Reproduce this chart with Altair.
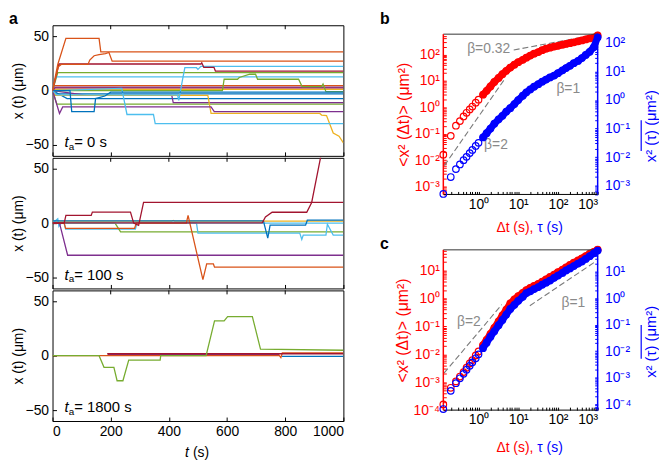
import altair as alt
import pandas as pd

FONT = "Liberation Sans"
BLUE = "#0072BD"; ORANGE = "#D95319"; YELLOW = "#EDB120"; PURPLE = "#7E2F8E"
GREEN = "#77AC30"; LBLUE = "#4DBEEE"; DRED = "#A2142F"
RED = "#FF0000"; MBLUE = "#0000FF"; GREY = "#8a8a8a"

TICKS_T = [0, 200, 400, 600, 800, 1000]
TICKS_X = [-50, 0, 50]

# ---------------- panel a, t_a = 0 s ----------------
A0_O1_T = [0, 18, 46, 160, 166, 1000]
A0_O1_X = [0, 24, 48, 48, 35.5, 35.5]
A0_O2_T = [0, 20, 30, 122, 128, 143, 160, 182, 194, 205, 1000]
A0_O2_X = [0, 22, 24, 24, 28, 32, 33, 34, 35, 27, 27]
A0_O3_T = [0, 6, 1000]
A0_O3_X = [0, 4.5, 4.5]
A0_R1_T = [0, 22, 510, 513, 520, 555, 560, 1000]
A0_R1_X = [0, 24.4, 24.4, 25.5, 21.4, 21.4, 17.9, 17.9]
A0_R2_T = [0, 8, 1000]
A0_R2_X = [0, 2.5, 2.5]
A0_L1_T = [0, 12, 1000]
A0_L1_X = [0, 12.5, 12.5]
A0_L2_T = [0, 15, 430, 434, 447, 455, 495, 500, 510, 1000]
A0_L2_X = [0, -4, -4, -9, 10, 21, 21, 19.5, 22.3, 22.3]
A0_L3_T = [0, 238, 256, 347, 353, 1000]
A0_L3_X = [0, 2, -22, -22, -30.4, -30.4]
A0_G1_T = [0, 18, 1000]
A0_G1_X = [0, 16.4, 16.4]
A0_G2_T = [0, 584, 590, 636, 642, 678, 698, 705, 846, 858, 925, 930, 940, 1000]
A0_G2_X = [0, 0, 10.4, 10.4, 12, 15, 15, 10.4, 10.4, 3.6, 3.6, 6, -1, -1]
A0_G3_T = [0, 15, 1000]
A0_G3_X = [0, -12.5, -12.5]
A0_P1_T = [0, 24, 35, 545, 556, 1000]
A0_P1_X = [0, -21, -15, -15, -19.3, -19.3]
A0_P2_T = [0, 120, 410, 415, 1000]
A0_P2_X = [0, -4.5, -4.5, -11, -11]
A0_P3_T = [0, 10, 1000]
A0_P3_X = [0, 3.2, 3.2]
A0_Y1_T = [0, 10, 534, 545, 919, 925, 942, 965, 985, 1000]
A0_Y1_X = [0, -4.5, -4.5, -21, -21, -22.5, -23, -39, -42, -48]
A0_Y2_T = [0, 1000]
A0_Y2_X = [1, 1]
A0_B1_T = [0, 60, 66, 143, 148, 180, 200, 1000]
A0_B1_X = [0, 0, -19.3, -19.3, -7.4, -5, -1.5, -1.5]
A0_B2_T = [0, 50, 1000]
A0_B2_X = [0, -7.4, -7.4]
A0_B3_T = [0, 1000]
A0_B3_X = [-3, -3]

# ---------------- panel a, t_a = 100 s ----------------
A1_R1_T = [0, 40, 46, 133, 137, 268, 279, 296, 313, 1000]
A1_R1_X = [0, 0, 7.1, 7.1, 10.1, 10.1, 0, -2, 19, 19]
A1_R2_T = [0, 721, 732, 755, 874, 891, 925, 960]
A1_R2_X = [0.3, 0.3, 5.6, 10, 10, 19, 65, 100]
A1_P1_T = [0, 24, 52, 1000]
A1_P1_X = [0, 0, -29.5, -29.5]
A1_O1_T = [0, 40, 45, 282, 288, 460, 466, 517, 530, 553, 557, 1000]
A1_O1_X = [0, 0, -4.8, -4.8, 0, 0, 7.1, -52, -37.5, -37.5, -40.5, -40.5]
A1_G1_T = [0, 215, 234, 1000]
A1_G1_X = [0, 0, -8, -8]
A1_B1_T = [0, 725, 740, 748, 870, 876, 1000]
A1_B1_X = [2, 2, -13.7, -1.8, -1.8, 2.7, 2.7]
A1_L1_T = [0, 18, 22, 30, 495, 500, 850, 857, 862, 940, 945, 965, 1000]
A1_L1_X = [0, 4, -3, 0, 0, -9.2, -9.2, -15, -11, -11, -1, -11, -11]
A1_L2_T = [0, 40, 45, 285, 290, 1000]
A1_L2_X = [0, 0, -5.5, -5.5, 0, 0]
A1_Y1_T = [0, 410, 415, 420, 1000]
A1_Y1_X = [1.8, 1.8, 2.5, 1.8, 1.8]

# ---------------- panel a, t_a = 1800 s ----------------
A2_G1_T = [0, 160, 177, 211, 222, 242, 262, 370, 372, 528, 557, 590, 602, 687, 715, 1000]
A2_G1_X = [0, 0, -10.7, -10.7, -23, -23, -4, -4, 0, 0, 32, 32, 36, 36, 6, 5]
A2_O1_T = [0, 780, 785, 790, 1000]
A2_O1_X = [0, 0, -1.8, 2.5, 2.5]
A2_R1_T = [188, 1000]
A2_R1_X = [1.8, 1.8]
A2_P1_T = [190, 780]
A2_P1_X = [1.3, 1.3]
A2_B1_T = [789, 1000]
A2_B1_X = [-0.6, -0.6]

PANEL_A0 = [(A0_Y2_T, A0_Y2_X, YELLOW), (A0_R2_T, A0_R2_X, DRED), (A0_P3_T, A0_P3_X, PURPLE),
            (A0_B3_T, A0_B3_X, BLUE), (A0_O3_T, A0_O3_X, ORANGE), (A0_G1_T, A0_G1_X, GREEN),
            (A0_G3_T, A0_G3_X, GREEN), (A0_L1_T, A0_L1_X, LBLUE), (A0_B2_T, A0_B2_X, BLUE),
            (A0_P2_T, A0_P2_X, PURPLE), (A0_Y1_T, A0_Y1_X, YELLOW), (A0_P1_T, A0_P1_X, PURPLE),
            (A0_G2_T, A0_G2_X, GREEN), (A0_L3_T, A0_L3_X, LBLUE), (A0_L2_T, A0_L2_X, LBLUE),
            (A0_B1_T, A0_B1_X, BLUE), (A0_R1_T, A0_R1_X, DRED), (A0_O2_T, A0_O2_X, ORANGE),
            (A0_O1_T, A0_O1_X, ORANGE)]
PANEL_A1 = [(A1_Y1_T, A1_Y1_X, YELLOW), (A1_L2_T, A1_L2_X, LBLUE), (A1_G1_T, A1_G1_X, GREEN),
            (A1_L1_T, A1_L1_X, LBLUE), (A1_B1_T, A1_B1_X, BLUE), (A1_P1_T, A1_P1_X, PURPLE),
            (A1_O1_T, A1_O1_X, ORANGE), (A1_R1_T, A1_R1_X, DRED), (A1_R2_T, A1_R2_X, DRED)]
PANEL_A2 = [(A2_P1_T, A2_P1_X, PURPLE), (A2_B1_T, A2_B1_X, BLUE), (A2_O1_T, A2_O1_X, ORANGE),
            (A2_R1_T, A2_R1_X, DRED), (A2_G1_T, A2_G1_X, GREEN)]

# ---------------- panels b and c: MSD curves ----------------
T_LAG = [0.13, 0.2, 0.27, 0.34, 0.42, 0.5, 0.6, 0.7, 0.85, 1.0, 1.3, 1.6, 2.0, 2.5, 3.2, 4.0,
         5.0, 6.3, 8.0, 10, 13, 16, 20, 25, 32, 40, 50, 63, 80, 100, 130, 160, 200, 250, 320,
         400, 500, 630, 800, 1000]
B_EA = [0.016, 0.083, 0.2, 0.3, 0.45, 0.62, 0.83, 1.07, 1.5, 1.95, 3.0, 4.2, 6.2, 9.1, 13, 18,
        24, 32, 41, 51, 63, 76, 91, 107, 123, 145, 166, 182, 200, 214, 234, 251, 269, 288, 316,
        339, 372, 407, 437, 525]
B_TA = [0.00051, 0.002, 0.0038, 0.0055, 0.0078, 0.0102, 0.0138, 0.0178, 0.0245, 0.0316, 0.049,
        0.069, 0.1, 0.148, 0.21, 0.28, 0.39, 0.52, 0.72, 1.0, 1.42, 1.86, 2.35, 2.95, 3.6, 4.4,
        5.2, 6.2, 7.2, 8.7, 11.0, 13.2, 15.8, 19.5, 23.4, 29.5, 38, 49, 72, 158]
C_EA = [1.6e-4, 6.3e-4, 1.07e-3, 1.6e-3, 2.3e-3, 3.3e-3, 4.7e-3, 6.2e-3, 9.1e-3, 0.0126, 0.0214,
        0.033, 0.054, 0.089, 0.15, 0.245, 0.4, 0.66, 0.93, 1.2, 1.58, 2.0, 2.4, 2.8, 3.3, 4.0,
        4.8, 5.9, 7.1, 8.7, 10.7, 12.9, 15.8, 19, 23, 27.5, 33, 40, 47, 56]
C_TA = [6.6e-5, 3.2e-4, 6.2e-4, 9.5e-4, 1.4e-3, 2.0e-3, 2.8e-3, 3.8e-3, 5.4e-3, 7.6e-3, 0.013,
        0.021, 0.035, 0.056, 0.095, 0.15, 0.24, 0.39, 0.56, 0.79, 1.12, 1.55, 1.8, 2.2, 2.6, 3.2,
        3.8, 4.6, 5.8, 7.1, 8.9, 11, 13.2, 16.2, 20, 24, 30, 38, 49, 62]

# guide lines (segment end points) and their labels
B_GUIDE_SEG = ["0.32", "0.32", "1", "1", "2", "2"]
B_GUIDE_T = [7.7, 760, 10.7, 890, 0.138, 4.6]
B_GUIDE_V = [148, 540, 2.2, 148, 0.0062, 12]
B_LABEL = ["β=0.32", "β=1", "β=2"]
B_LABEL_T = [1.8, 182, 2.75]
B_LABEL_V = [162, 5.1, 0.038]
C_GUIDE_SEG = ["2", "2", "1", "1"]
C_GUIDE_T = [0.135, 3.85, 19.6, 930]
C_GUIDE_V = [0.0021, 0.6, 0.55, 22]
C_LABEL = ["β=2", "β=1"]
C_LABEL_T = [0.57, 245]
C_LABEL_V = [0.14, 0.68]

B_RED_DOM = [5.0e-4, 589]
B_BLUE_DOM = [4.9e-4, 204]
C_RED_DOM = [1.0e-4, 55]
C_BLUE_DOM = [6.0e-5, 66]
T_DOM = [0.13, 1000]

SUP = {-4: "⁻⁴", -3: "⁻³", -2: "⁻²", -1: "⁻¹", 0: "⁰", 1: "¹", 2: "²", 3: "³"}


def log_ticks(dom):
    vals = []
    for e in range(-5, 4):
        for m in range(1, 10):
            v = float(f"{m}e{e}")
            if dom[0] * 0.999 <= v <= dom[1] * 1.001:
                vals.append(v)
    return vals


def log_label_expr():
    parts = []
    for e, s in SUP.items():
        parts.append(f"datum.value == {float(f'1e{e}')!r} ? '10{s}'")
    return " : ".join(parts) + " : ''"


def traj_frame(items):
    rows = []
    for k, (ts, xs, col) in enumerate(items):
        for i, (t, x) in enumerate(zip(ts, xs)):
            rows.append({"id": k, "i": i, "t": t, "x": x, "c": col})
    return pd.DataFrame(rows)


WA, HA = 294, 132
XS_A = alt.Scale(domain=[0, 1000], nice=False, zero=False)
YS_A = alt.Scale(domain=[-60, 60], nice=False, zero=False)


def txt(s, x, y, size=15, **kw):
    return alt.Chart(pd.DataFrame({"s": [s]})).mark_text(
        font=FONT, fontSize=size, **kw).encode(x=alt.value(x), y=alt.value(y), text="s:N")


def rule(x1, y1, x2, y2, color, width=1.0):
    return alt.Chart(pd.DataFrame({"s": [""]})).mark_rule(color=color, strokeWidth=width).encode(
        x=alt.value(x1), y=alt.value(y1), x2=alt.value(x2), y2=alt.value(y2))


def panel_a(items, num, bottom, letter=None):
    df = traj_frame(items)
    xax = alt.Axis(values=TICKS_T, labels=bottom, format="d", title=None, offset=-4,
                   tickSize=4, domain=False, labelPadding=4, labelFontSize=14,
                   tickColor="black", labelColor="black", grid=False)
    yax = alt.Axis(values=TICKS_X, title="x (t) (μm)", offset=-4, tickSize=4, domain=False,
                   labelPadding=4, labelFontSize=14, titleFontSize=14, titlePadding=0,
                   tickColor="black", labelColor="black", titleColor="black", grid=False)
    lines = alt.Chart(df).mark_line(strokeWidth=1.3, clip=True).encode(
        x=alt.X("t:Q", scale=XS_A, axis=xax),
        y=alt.Y("x:Q", scale=YS_A, axis=yax),
        color=alt.Color("c:N", scale=None),
        detail="id:N",
        order="i:Q",
    )
    top = alt.Chart(pd.DataFrame({"t": TICKS_T[1:-1]})).mark_rule(color="black").encode(
        x=alt.X("t:Q", scale=XS_A, axis=xax), y=alt.value(0), y2=alt.value(4))
    layers = [lines, top,
              txt("t", 12, HA - 14, fontStyle="italic", align="left"),
              txt("a", 16.5, HA - 9, size=10, align="left"),
              txt(f"= {num} s", 22, HA - 14, align="left")]
    if bottom:
        layers += [txt("t", 134, HA + 32, size=14, fontStyle="italic", align="left"),
                   txt("(s)", 142, HA + 32, size=14, align="left")]
    if letter:
        layers.append(txt(letter, -44, -6, size=16, fontWeight="bold", align="left"))
    return alt.layer(*layers).properties(width=WA, height=HA)


WB, HB = 156, 162
XS_B = alt.Scale(type="log", domain=T_DOM, nice=False)


def panel_msd(ea, ta, rdom, bdom, gseg, gt, gv, lab, lt, lv, letter, top_gap, letter_y,
              title_y, bar):
    hv = HB + top_gap
    rs = alt.Scale(type="log", domain=rdom, nice=False, range=[hv, top_gap])
    bs = alt.Scale(type="log", domain=bdom, nice=False, range=[hv, top_gap])
    xax = alt.Axis(values=log_ticks(T_DOM), labelExpr=log_label_expr(), title=None,
                   offset=-3, tickSize=3, domain=False, labelPadding=3, labelFontSize=14,
                   labelOverlap=False, tickColor="black", labelColor="black", grid=False)
    rax = alt.Axis(values=log_ticks(rdom), labelExpr=log_label_expr(),
                   title="<x² (Δt)> (μm²)", offset=-3, tickSize=3, domain=False,
                   labelPadding=4, labelFontSize=14, labelOverlap=False, titleFontSize=16,
                   titlePadding=3, tickColor=RED, labelColor=RED, titleColor=RED, grid=False)
    bax = alt.Axis(values=log_ticks(bdom), labelExpr=log_label_expr(), orient="right",
                   title=None, offset=-3, tickSize=3, domain=False,
                   labelPadding=7, labelFontSize=14, labelOverlap=False,
                   tickColor=MBLUE, labelColor=MBLUE, grid=False)
    d = pd.DataFrame({"t": T_LAG, "ea": ea, "ta": ta})
    dense = d[d["t"] >= 1.3]
    g = pd.DataFrame({"seg": gseg, "t": gt, "v": gv})
    lb = pd.DataFrame({"s": lab, "t": lt, "v": lv})
    X = alt.X("t:Q", scale=XS_B, axis=xax)
    guides = alt.Chart(g).mark_line(strokeDash=[6, 3], color="#7a7a7a", strokeWidth=1.1).encode(
        x=X, y=alt.Y("v:Q", scale=rs, axis=rax), detail="seg:N")
    rband = alt.Chart(dense).mark_line(color=RED, strokeWidth=7, strokeCap="round").encode(
        x=X, y=alt.Y("ea:Q", scale=rs, axis=rax))
    rpts = alt.Chart(d).mark_point(shape="circle", filled=False, size=44, strokeWidth=1.2,
                                   color=RED, opacity=1).encode(
        x=X, y=alt.Y("ea:Q", scale=rs, axis=rax))
    labels = alt.Chart(lb).mark_text(font=FONT, fontSize=14, color=GREY).encode(
        x=X, y=alt.Y("v:Q", scale=rs, axis=rax), text="s:N")
    red_layer = alt.layer(
        guides, rband, rpts, labels,
        rule(0, top_gap, WB, top_gap, "#333333"),
        rule(0, hv, WB, hv, "black"),
        rule(0, top_gap, 0, hv, RED, 1.5),
        txt(letter, -64, letter_y, size=16, fontWeight="bold", align="left"),
        txt("Δt (s),", WB / 2 + 13, hv + title_y, size=14, color=RED, align="right",
            baseline="middle"),
        txt("τ (s)", WB / 2 + 17, hv + title_y, size=14, color=MBLUE, align="left",
            baseline="middle"),
    )
    bband = alt.Chart(dense).mark_line(color=MBLUE, strokeWidth=7, strokeCap="round").encode(
        x=X, y=alt.Y("ta:Q", scale=bs, axis=bax))
    bpts = alt.Chart(d).mark_point(shape="circle", filled=False, size=44, strokeWidth=1.2,
                                   color=MBLUE, opacity=1).encode(
        x=X, y=alt.Y("ta:Q", scale=bs, axis=bax))
    blue_layer = alt.layer(
        bband, bpts,
        rule(WB, top_gap, WB, hv, MBLUE, 1.5),
        txt("x² (τ) (μm²)", WB + 54, top_gap + HB / 2 + 12, size=15, color=MBLUE,
            angle=270, align="center", baseline="middle"),
        rule(WB + 44, top_gap + bar[0], WB + 44, top_gap + bar[1], MBLUE, 1.2),
    )
    return alt.layer(red_layer, blue_layer).resolve_scale(y="independent").properties(
        width=WB, height=hv, view=alt.ViewBackground(stroke=None))


a0 = panel_a(PANEL_A0, 0, False, "a")
a1 = panel_a(PANEL_A1, 100, False)
a2 = panel_a(PANEL_A2, 1800, True)
b = panel_msd(B_EA, B_TA, B_RED_DOM, B_BLUE_DOM, B_GUIDE_SEG, B_GUIDE_T, B_GUIDE_V,
              B_LABEL, B_LABEL_T, B_LABEL_V, "b", 9, -6, 34, (87, 118))
c = panel_msd(C_EA, C_TA, C_RED_DOM, C_BLUE_DOM, C_GUIDE_SEG, C_GUIDE_T, C_GUIDE_V,
              C_LABEL, C_LABEL_T, C_LABEL_V, "c", 0, -6, 38, (76, 110))

left = alt.vconcat(a0, a1, a2, spacing=0)
right = alt.vconcat(b, c, spacing=0)
chart = alt.hconcat(left, right, spacing=36).properties(padding=0).configure_view(
    stroke="black", strokeWidth=1).configure_axis(
    labelFont=FONT, titleFont=FONT, titleFontWeight="normal").configure_text(font=FONT)

chart.save("out.html", embed_options={"renderer": "svg", "actions": False})
